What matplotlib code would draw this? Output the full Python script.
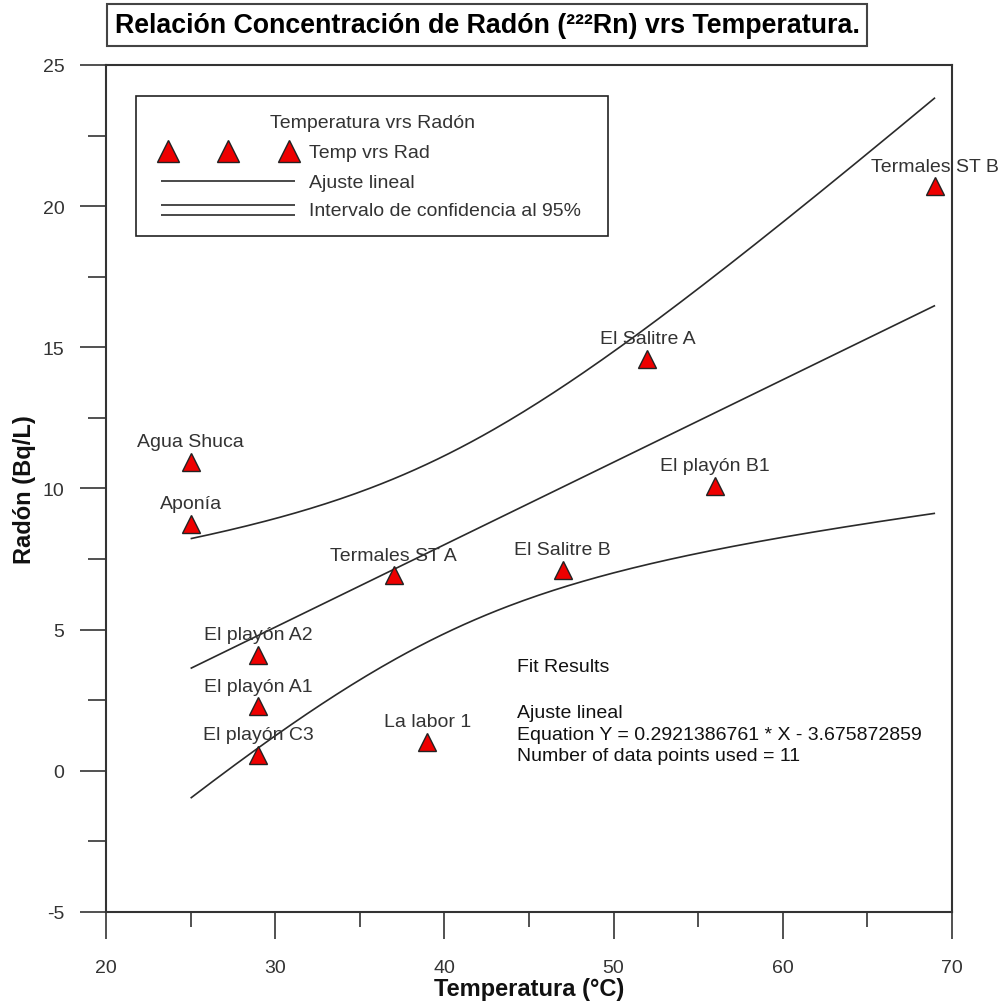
import numpy as np
import matplotlib
matplotlib.use("Agg")
import matplotlib.pyplot as plt
from matplotlib.lines import Line2D
from matplotlib.patches import Rectangle
from matplotlib.ticker import MultipleLocator

plt.rcParams["axes.unicode_minus"] = False

# Sampling sites: temperature (°C) and radon concentration (Bq/L)
sites = ["Termales ST B", "El Salitre A", "El playón B1", "Agua Shuca", "Aponía",
         "Termales ST A", "El Salitre B", "El playón A2", "El playón A1",
         "El playón C3", "La labor 1"]
temperature = [69, 52, 56, 25, 25, 37, 47, 29, 29, 29, 39]
radon = [20.7, 14.59, 10.09, 10.94, 8.74, 6.93, 7.11, 4.10, 2.29, 0.56, 1.02]

# Reported linear fit
slope = 0.2921386761
intercept = -3.675872859
t_crit_95 = 2.262  # Student t, 9 degrees of freedom

W, H = 1001, 1004
fig = plt.figure(figsize=(W / 100, H / 100), dpi=100)

def fx(px):
    return px / W

def fy(py):
    return 1 - py / H

ax = fig.add_axes([fx(106), fy(913), fx(952) - fx(106), fy(66) - fy(913)])

dark = "#333333"
regular = ["Liberation Sans", "DejaVu Sans"]
fs_text = 14

x = np.array(temperature, dtype=float)
y = np.array(radon, dtype=float)
n = len(x)

xs = np.linspace(x.min(), x.max(), 200)
fit = slope * xs + intercept
resid = y - (slope * x + intercept)
s = np.sqrt(np.sum(resid ** 2) / (n - 2))
sxx = np.sum((x - x.mean()) ** 2)
half = t_crit_95 * s * np.sqrt(1 / n + (xs - x.mean()) ** 2 / sxx)

line_kw = dict(color="#2a2a2a", lw=1.2, solid_capstyle="butt")
ax.plot(xs, fit, **line_kw)
ax.plot(xs, fit + half, **line_kw)
ax.plot(xs, fit - half, **line_kw)

ax.plot(x, y, linestyle="none", marker="^", markersize=13,
        markerfacecolor="#ee0000", markeredgecolor="#222222", markeredgewidth=1.0,
        zorder=5, clip_on=False)

for name, xi, yi in zip(sites, temperature, radon):
    ax.annotate(name, (xi, yi), xytext=(0, 14.5), textcoords="offset points",
                ha="center", va="center", fontsize=fs_text, color=dark,
                family=regular, annotation_clip=False, zorder=6)

ax.set_xlim(20, 70)
ax.set_ylim(-5, 25)
ax.xaxis.set_major_locator(MultipleLocator(10))
ax.xaxis.set_minor_locator(MultipleLocator(5))
ax.yaxis.set_major_locator(MultipleLocator(5))
ax.yaxis.set_minor_locator(MultipleLocator(2.5))
ax.tick_params(which="both", direction="out", width=1.2, color=dark, labelcolor=dark)
ax.tick_params(axis="x", which="major", length=19.5, pad=14)
ax.tick_params(axis="x", which="minor", length=11)
ax.tick_params(axis="y", which="major", length=19, pad=11)
ax.tick_params(axis="y", which="minor", length=13)

for lab in ax.get_xticklabels() + ax.get_yticklabels():
    lab.set_family(regular)
    lab.set_fontsize(fs_text)

for sp in ax.spines.values():
    sp.set_color(dark)
    sp.set_linewidth(1.5)

ax.set_xlabel("Temperatura (°C)", fontsize=17, fontweight="bold", family=regular,
              color="#111111", labelpad=1)
ax.set_ylabel("Radón (Bq/L)", fontsize=17, fontweight="bold", family=regular,
              color="#111111", labelpad=5)

# Fit summary
summary = [("Fit Results", 668), ("Ajuste lineal", 713),
           ("Equation Y = 0.2921386761 * X - 3.675872859", 735),
           ("Number of data points used = 11", 757)]
for txt, py in summary:
    fig.text(fx(517), fy(py), txt, ha="left", va="center", fontsize=fs_text,
             color="#111111", family=regular)

# Legend box
fig.add_artist(Rectangle((fx(136), fy(237)), fx(608) - fx(136), fy(97) - fy(237),
                         transform=fig.transFigure, fill=True, facecolor="white",
                         edgecolor="#222222", lw=1.2, zorder=10))
fig.text(fx(372), fy(123), "Temperatura vrs Radón", ha="center", va="center",
         fontsize=fs_text, color=dark, family=regular, zorder=11)
for px in (168, 228, 289):
    fig.add_artist(Line2D([fx(px)], [fy(152)], transform=fig.transFigure,
                          marker="^", markersize=16, markerfacecolor="#ee0000",
                          markeredgecolor="#222222", markeredgewidth=1.0,
                          linestyle="none", zorder=11))
fig.text(fx(309), fy(153), "Temp vrs Rad", ha="left", va="center",
         fontsize=fs_text, color=dark, family=regular, zorder=11)
fig.add_artist(Line2D([fx(161), fx(295)], [fy(182), fy(182)],
                      transform=fig.transFigure, zorder=11, **line_kw))
fig.text(fx(309), fy(183), "Ajuste lineal", ha="left", va="center",
         fontsize=fs_text, color=dark, family=regular, zorder=11)
for py in (206, 216):
    fig.add_artist(Line2D([fx(161), fx(295)], [fy(py), fy(py)],
                          transform=fig.transFigure, zorder=11, **line_kw))
fig.text(fx(309), fy(212), "Intervalo de confidencia al 95%", ha="left",
         va="center", fontsize=fs_text, color=dark, family=regular, zorder=11)

# Title in a framed box
fig.text(fx(487), fy(26), "Relación Concentración de Radón (²²²Rn) vrs Temperatura.",
         ha="center", va="center", fontsize=19.3, fontweight="bold", family=regular,
         color="#000000",
         bbox=dict(boxstyle="square,pad=0.3", facecolor="white",
                   edgecolor="#444444", lw=1.5))

fig.savefig("out.png", dpi=100)
